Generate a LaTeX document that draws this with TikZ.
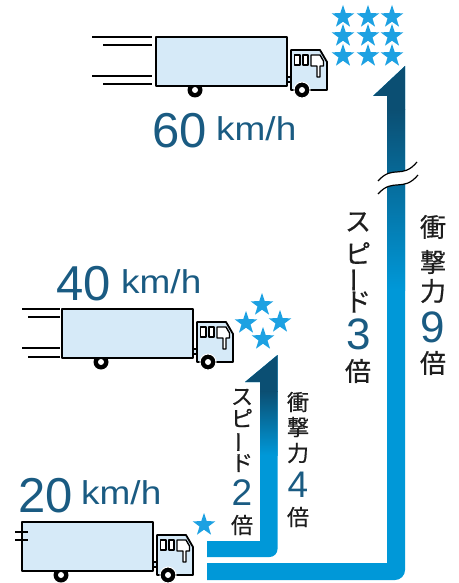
\documentclass[tikz,border=0pt]{standalone}
\usepackage{fontspec}
\setmainfont{Liberation Sans}
\newfontfamily\jpfont[FakeBold=0.6]{Noto Sans CJK JP}
\newfontfamily\numfont{Liberation Sans}
\usetikzlibrary{shapes.geometric}
\definecolor{numcol}{HTML}{1A5B82}
\definecolor{barlight}{HTML}{0098D8}
\definecolor{bardark}{HTML}{0B4F73}
\definecolor{starcol}{HTML}{1DA1E2}
\definecolor{truckfill}{HTML}{D6EAF8}
\definecolor{inkcol}{HTML}{1E1E1E}
\tikzset{
  truckline/.style={draw=black, line width=1.8pt, line join=round},
  speedline/.style={draw=black, line width=1.6pt},
  starnode/.style={star, star points=5, star point ratio=2.55, fill=starcol, inner sep=0pt, minimum size=24pt},
  bigjp/.style={inner sep=0pt, text=inkcol, font=\jpfont\fontsize{26}{26}\selectfont},
  smalljp/.style={inner sep=0pt, text=inkcol, font=\jpfont\fontsize{22}{22}\selectfont},
  bignum/.style={inner sep=0pt, text=numcol, font=\numfont\fontsize{44}{44}\selectfont},
  smallnum/.style={inner sep=0pt, text=numcol, font=\numfont\fontsize{37}{37}\selectfont},
  speednum/.style={inner sep=0pt, anchor=base west, text=numcol, font=\numfont\fontsize{49}{49}\selectfont},
  speedunit/.style={inner sep=0pt, anchor=base west, text=numcol, xscale=1.12, font=\numfont\fontsize{33}{33}\selectfont},
  truck/.pic={
    % rear wheel (behind the box)
    \fill[black] (39,53) circle (7.5);
    \fill[white] (39,53) circle (3);
    % cargo box
    \draw[truckline, fill=truckfill] (0,0) rectangle (131,49);
    % coupling
    \draw[truckline, fill=truckfill] (131,40) rectangle (135,45);
    % cab
    \draw[truckline, fill=truckfill] (135,13) -- (164,13) -- (171,25) -- (171,53) -- (135,53) -- cycle;
    % windows
    \draw[truckline, line width=1.4pt, fill=white] (138.5,18) rectangle (144,28);
    \draw[truckline, line width=1.4pt, fill=white] (147,18) rectangle (152,28);
    \draw[truckline, line width=1.4pt, fill=white] (155,18) -- (164,18) -- (167.5,24) -- (167.5,29) -- (164,29) -- (164,40) -- (161,40) -- (161,29) -- (155,29) -- cycle;
    % front wheel
    \filldraw[fill=black, draw=white, line width=1pt] (146,53) circle (8);
    \fill[white] (146,53) circle (3);
  }
}
\begin{document}
\begin{tikzpicture}[x=1pt, y=-1pt]
\useasboundingbox (0,0) rectangle (458,583);

% ---------- big bar ----------
\def\bigbar{(207,563) -- (387,563) -- (387,96) -- (373,96) -- (405,66) -- (405,570) arc[start angle=0, end angle=90, radius=10] -- (207,580) -- cycle}
\fill[barlight] \bigbar;
\begin{scope}
  \clip \bigbar;
  \fill[bardark] (360,60) rectangle (410,110);
  \shade[top color=bardark, bottom color=barlight] (360,109.5) rectangle (410,290);
\end{scope}
% break mark
\fill[white] (378,181) .. controls (393,164) and (402,180) .. (417,162) -- (418,175) .. controls (403,193) and (393,177) .. (378,194) -- cycle;
\draw[black, line width=1.2pt] (378,181) .. controls (393,164) and (402,180) .. (417,162);
\draw[black, line width=1.2pt] (378,194) .. controls (393,177) and (403,193) .. (418,175);

% ---------- small bar ----------
\def\smallbar{(207,541) -- (260,541) -- (260,382) -- (245,382) -- (277.5,355) -- (277.5,549) arc[start angle=0, end angle=90, radius=8] -- (207,557) -- cycle}
\fill[barlight] \smallbar;
\begin{scope}
  \clip \smallbar;
  \fill[bardark] (240,350) rectangle (280,392);
  \shade[top color=bardark, bottom color=barlight] (240,391.5) rectangle (280,455);
\end{scope}

% ---------- stars ----------
\node[starnode] (s11) at (343,17) {};
\node[starnode] (s12) at (368,17) {};
\node[starnode] (s13) at (392,17) {};
\node[starnode] (s21) at (343,36) {};
\node[starnode] (s22) at (368,36) {};
\node[starnode] (s23) at (392,36) {};
\node[starnode] (s31) at (343,56) {};
\node[starnode] (s32) at (368,56) {};
\node[starnode] (s33) at (392,56) {};
\node[starnode] (m1) at (262,305) {};
\node[starnode] (m2) at (246,323) {};
\node[starnode] (m3) at (280,322) {};
\node[starnode] (m4) at (263,339) {};
\node[starnode] (b1) at (204,525) {};

% ---------- trucks ----------
\draw[speedline] (92,37) -- (152,37);
\draw[speedline] (103,45) -- (152,45);
\draw[speedline] (92,76) -- (152,76);
\draw[speedline] (103,84) -- (152,84);
\pic at (156,37) {truck};

\draw[speedline] (22,309) -- (60,309);
\draw[speedline] (28,317) -- (60,317);
\draw[speedline] (22,348) -- (60,348);
\draw[speedline] (28,357) -- (60,357);
\pic at (62,309) {truck};

\pic at (22,522) {truck};
\draw[speedline] (15,532) -- (28,532);
\draw[speedline] (15,540) -- (28,540);

% ---------- speed labels ----------
\node[speednum] (n60) at (152,147) {60};
\node[speedunit] (u60) at (216,140) {km/h};
\node[speednum] (n40) at (56,300) {40};
\node[speedunit] (u40) at (121,293) {km/h};
\node[speednum] (n20) at (18,512) {20};
\node[speedunit] (u20) at (81,504) {km/h};

% ---------- vertical texts, big bar ----------
\node[bigjp] (a1) at (358,222) {ス};
\node[bigjp] (a2) at (358,253) {ピ};
\node[bigjp, rotate=90] (a3) at (358,280) {ー};
\node[bigjp] (a4) at (358,302) {ド};
\node[bignum] (a5) at (359,334) {3};
\node[bigjp] (a6) at (358,371) {倍};

\node[bigjp] (c1) at (433,227) {衝};
\node[bigjp] (c2) at (433,262) {撃};
\node[bigjp] (c3) at (433,291) {力};
\node[bignum] (c4) at (433,327) {9};
\node[bigjp] (c5) at (433,363) {倍};

% ---------- vertical texts, small bar ----------
\node[smalljp] (d1) at (242,397) {ス};
\node[smalljp] (d2) at (242,418) {ピ};
\node[smalljp, rotate=90] (d3) at (242,442) {ー};
\node[smalljp] (d4) at (242,463) {ド};
\node[smallnum] (d5) at (242,493) {2};
\node[smalljp] (d6) at (242,525) {倍};

\node[smalljp] (e1) at (298,402) {衝};
\node[smalljp] (e2) at (298,427) {撃};
\node[smalljp] (e3) at (298,453) {力};
\node[smallnum] (e4) at (298,485) {4};
\node[smalljp] (e5) at (298,517) {倍};
\end{tikzpicture}
\end{document}
